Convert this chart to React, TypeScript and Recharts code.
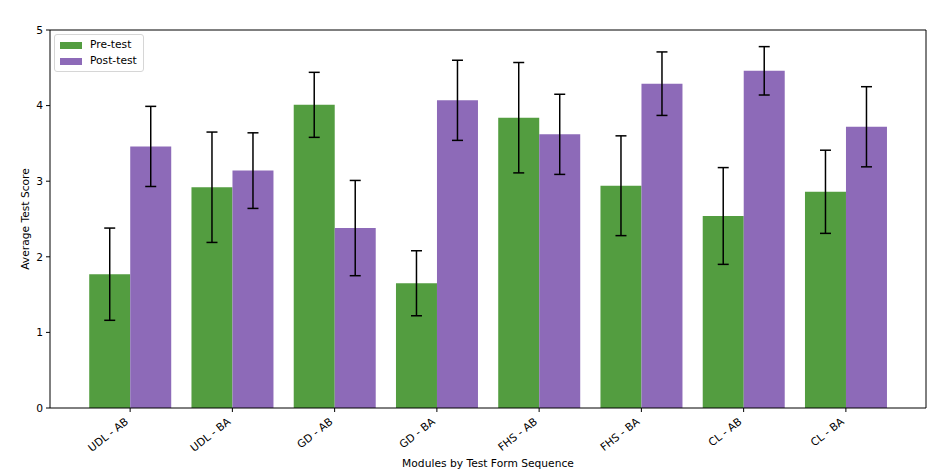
import React from "react";
import {
  BarChart,
  Bar,
  XAxis,
  YAxis,
  ErrorBar,
  Legend,
} from "recharts";

const categories = [
  "UDL - AB",
  "UDL - BA",
  "GD - AB",
  "GD - BA",
  "FHS - AB",
  "FHS - BA",
  "CL - AB",
  "CL - BA",
];
const preTest = [1.77, 2.92, 4.01, 1.65, 3.84, 2.94, 2.54, 2.86];
const preErr = [0.61, 0.73, 0.43, 0.43, 0.73, 0.66, 0.64, 0.55];
const postTest = [3.46, 3.14, 2.38, 4.07, 3.62, 4.29, 4.46, 3.72];
const postErr = [0.53, 0.5, 0.63, 0.53, 0.53, 0.42, 0.32, 0.53];
const yTicks = [0, 1, 2, 3, 4, 5];

const GREEN = "#539d40";
const PURPLE = "#8d6ab8";
const FONT = "'DejaVu Sans', sans-serif";
const FS = 10.7;

const data = categories.map((name, i) => ({
  name,
  pre: preTest[i],
  preErr: preErr[i],
  post: postTest[i],
  postErr: postErr[i],
}));

const XTick = (props: any) => {
  const { x, y, payload } = props;
  const tx = x - 1;
  const ty = y + 9;
  return (
    <text
      x={tx}
      y={ty}
      textAnchor="end"
      fontSize={FS}
      fontFamily={FONT}
      fill="#000"
      transform={`rotate(-38, ${tx}, ${ty})`}
    >
      {payload.value}
    </text>
  );
};

const LegendBox = () => (
  <div
    style={{
      border: "1px solid #d6d6d6",
      borderRadius: 3,
      background: "rgba(255,255,255,0.8)",
      padding: "2px 6px 2px 5px",
      fontFamily: FONT,
      fontSize: FS,
      color: "#000",
      lineHeight: "16px",
    }}
  >
    {[
      { label: "Pre-test", color: GREEN },
      { label: "Post-test", color: PURPLE },
    ].map((it) => (
      <div key={it.label} style={{ display: "flex", alignItems: "center" }}>
        <span
          style={{
            display: "inline-block",
            width: 22,
            height: 7,
            background: it.color,
            marginRight: 8,
          }}
        />
        {it.label}
      </div>
    ))}
  </div>
);

export default function App() {
  return (
    <div style={{ position: "absolute", left: 0, top: 0, background: "#fff" }}>
      <BarChart
        width={948}
        height={472}
        data={data}
        margin={{ top: 29, right: 21, left: 0, bottom: 0 }}
        barCategoryGap="10%"
        barGap={0}
      >
        <XAxis
          dataKey="name"
          height={64}
          padding={{ left: 29, right: 29 }}
          tick={<XTick />}
          tickSize={4}
          stroke="#000"
          tickLine={{ stroke: "#000" }}
          interval={0}
          label={{
            value: "Modules by Test Form Sequence",
            position: "insideBottom",
            offset: 5,
            style: { fontFamily: FONT, fontSize: FS, fill: "#000" },
          }}
        />
        <XAxis
          xAxisId="top"
          dataKey="name"
          orientation="top"
          height={1}
          tick={false}
          tickLine={false}
          stroke="#000"
        />
        <YAxis
          width={50}
          domain={[0, 5]}
          ticks={yTicks}
          tickSize={4}
          tickMargin={3}
          stroke="#000"
          tick={{ fontFamily: FONT, fontSize: FS, fill: "#000" }}
          label={{
            value: "Average Test Score",
            angle: -90,
            position: "insideLeft",
            offset: 0,
            dx: 25,
            style: {
              fontFamily: FONT,
              fontSize: FS,
              fill: "#000",
              textAnchor: "middle",
            },
          }}
        />
        <YAxis
          yAxisId="right"
          orientation="right"
          width={1}
          domain={[0, 5]}
          tick={false}
          tickLine={false}
          stroke="#000"
        />
        <Legend
          layout="vertical"
          align="center"
          verticalAlign="middle"
          wrapperStyle={{ left: 54, top: 34, width: "auto", height: "auto" }}
          content={() => <LegendBox />}
        />
        <Bar dataKey="pre" name="Pre-test" fill={GREEN} isAnimationActive={false}>
          <ErrorBar dataKey="preErr" width={5.5} stroke="#000" strokeWidth={1.5} />
        </Bar>
        <Bar dataKey="post" name="Post-test" fill={PURPLE} isAnimationActive={false}>
          <ErrorBar dataKey="postErr" width={5.5} stroke="#000" strokeWidth={1.5} />
        </Bar>
      </BarChart>
    </div>
  );
}
